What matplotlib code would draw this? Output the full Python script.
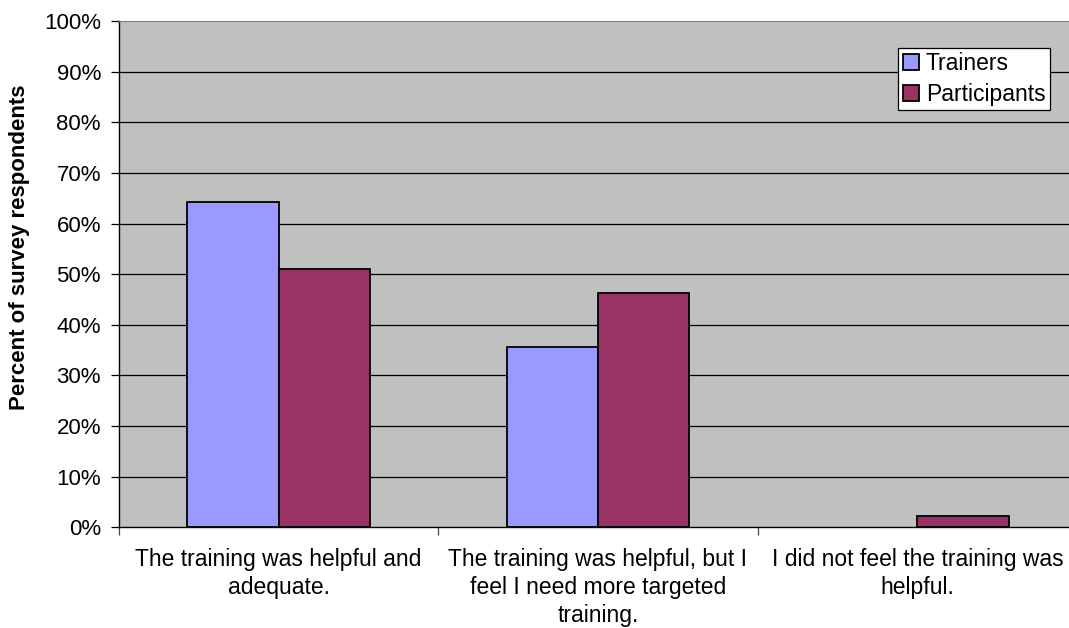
import matplotlib
matplotlib.use("Agg")
import matplotlib.pyplot as plt
import numpy as np

plt.rcParams['font.family'] = ['Liberation Sans', 'DejaVu Sans']

categories = [
    "The training was helpful and\nadequate.",
    "The training was helpful, but I\nfeel I need more targeted\ntraining.",
    "I did not feel the training was\nhelpful.",
]
series_names = ["Trainers", "Participants"]
trainers = [64.3, 35.7, 0.0]
participants = [51.1, 46.3, 2.3]
yticks = list(range(0, 101, 10))

colors = ["#9999FF", "#993366"]
FS = 16.5

fig = plt.figure(figsize=(10.69, 6.28), dpi=100)
ax = fig.add_axes([119 / 1069, (628 - 527.3) / 628, (1077 - 119) / 1069, (527.3 - 21) / 628])
ax.set_facecolor("#C0C0C0")

x = np.arange(len(categories))
w = 1 / 3.5
for i, (vals, name) in enumerate(zip([trainers, participants], series_names)):
    edges = ["black" if v > 0 else "none" for v in vals]
    ax.bar(x + (i - 0.5) * w, vals, width=w, color=colors[i], edgecolor=edges,
           linewidth=1.3, label=name, zorder=3)

ax.set_xlim(-0.5, len(categories) - 0.5)
ax.set_ylim(0, 100)
ax.set_yticks(yticks)
ax.set_yticklabels([f"{t}%" for t in yticks], fontsize=16)
for t in yticks[1:-1]:
    ax.axhline(t, color="black", linewidth=0.9, zorder=1)

ax.set_xticks(x)
ax.set_xticklabels(categories, fontsize=FS, linespacing=1.28)
ax.tick_params(axis="x", length=0, pad=15)
# category separator ticks
ax.set_xticks(np.arange(-0.5, len(categories)), minor=True)
ax.tick_params(axis="x", which="minor", length=6, width=0.9, color="#444444")
ax.tick_params(axis="y", length=6, width=0.9, pad=7)

for s in ["left", "bottom"]:
    ax.spines[s].set_color("black")
    ax.spines[s].set_linewidth(1.0)
ax.spines["top"].set_color("#808080")
ax.spines["right"].set_color("#808080")

ax.set_ylabel("Percent of survey respondents", fontsize=16, fontweight="bold")
ax.yaxis.set_label_coords(-(119 - 30) / 958, (527.3 - 247) / 506.3)

leg = ax.legend(loc="upper right", bbox_to_anchor=((1050 - 119) / (1077 - 119), 1 - (47.7 - 21) / 506.3),
                fontsize=FS, frameon=True, fancybox=False, edgecolor="black",
                handlelength=0.7, handleheight=0.7, handletextpad=0.3, borderpad=0.2,
                labelspacing=0.32, borderaxespad=0)
leg.get_frame().set_linewidth(0.9)
leg.get_frame().set_facecolor("white")
leg.get_frame().set_alpha(1)

fig.savefig("out.png", dpi=100)
